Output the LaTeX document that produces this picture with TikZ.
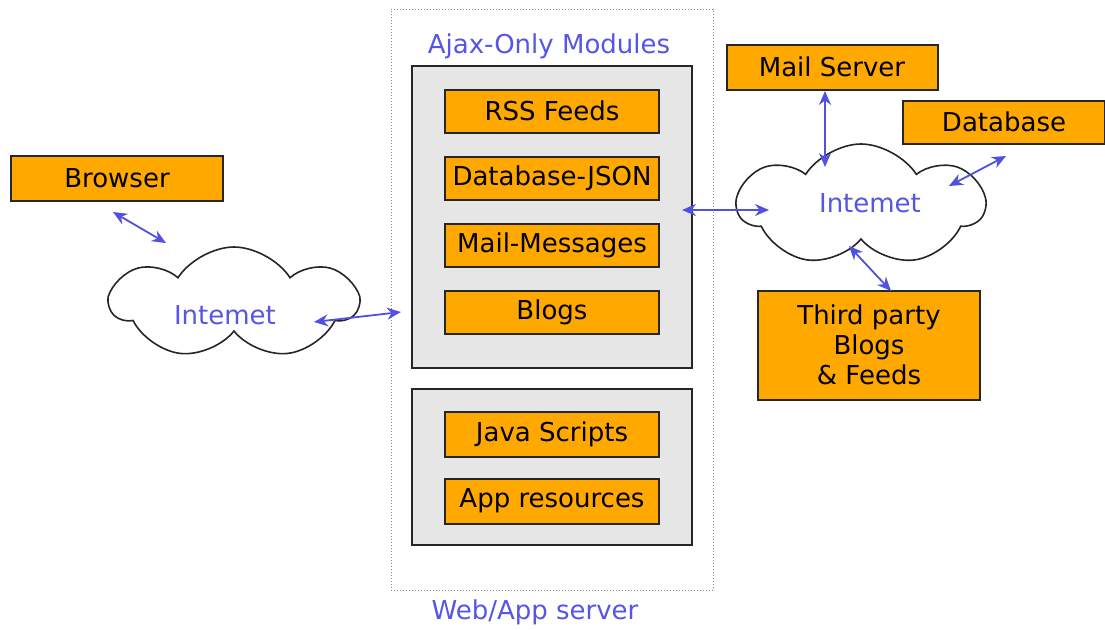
\documentclass[tikz,border=0pt]{standalone}
\usepackage{fontspec}
\setmainfont{DejaVu Sans}
\usetikzlibrary{arrows.meta,shapes.symbols}
\definecolor{boxorange}{RGB}{255,168,0}
\definecolor{panelgray}{RGB}{230,230,230}
\definecolor{linkblue}{RGB}{80,80,225}
\definecolor{labelblue}{RGB}{85,85,230}
\tikzset{
  x=1pt,y=-1pt,
  obox/.style={draw=black!85,line width=2pt,fill=boxorange,inner sep=0pt,font=\fontsize{26}{30}\selectfont,align=center},
  panel/.style={draw=black!85,line width=2pt,fill=panelgray},
  netcloud/.style={cloud,cloud puffs=7,cloud puff arc=115,aspect=2.1,draw=black!85,line width=1.6pt,fill=white,inner sep=0pt},
  link/.style={draw=linkblue,line width=1.8pt,{Stealth[length=14pt,width=12pt]}-{Stealth[length=14pt,width=12pt]}},
  bluelabel/.style={text=labelblue,font=\fontsize{26}{30}\selectfont}
}
\begin{document}
\begin{tikzpicture}
\useasboundingbox (0,0) rectangle (1105,629);
% outer server frame
\node[draw=black!45,dotted,line width=1pt,minimum width=322pt,minimum height=581pt,inner sep=0pt] (server) at (552,299.5) {};
\node[bluelabel] (ajax) at (549,46) {Ajax-Only Modules};
\node[bluelabel] (web) at (535,612) {Web/App server};
% panels
\node[panel,minimum width=280pt,minimum height=302pt,inner sep=0pt] (modpanel) at (552,217) {};
\node[panel,minimum width=280pt,minimum height=156pt,inner sep=0pt] (respanel) at (552,467) {};
% module boxes
\node[obox,minimum width=214pt,minimum height=43pt] (rss) at (552,111) {RSS Feeds};
\node[obox,minimum width=214pt,minimum height=43pt] (dbjson) at (552,178) {Database-JSON};
\node[obox,minimum width=214pt,minimum height=43pt] (mailmsg) at (552,245) {Mail-Messages};
\node[obox,minimum width=214pt,minimum height=43pt] (blogs) at (552,312) {Blogs};
\node[obox,minimum width=214pt,minimum height=45pt] (js) at (552,434) {Java Scripts};
\node[obox,minimum width=214pt,minimum height=45pt] (appres) at (552,501) {App resources};
% external boxes
\node[obox,minimum width=212pt,minimum height=45pt] (browser) at (117,178) {Browser};
\node[obox,minimum width=211pt,minimum height=45pt] (mail) at (832,67) {Mail Server};
\node[obox,minimum width=202pt,minimum height=43pt] (db) at (1004,122) {Database};
\node[obox,minimum width=222pt,minimum height=109pt] (third) at (869,345) {Third party\\Blogs\\\& Feeds};
% clouds
\node[netcloud,minimum width=246pt,minimum height=112pt] (net1) at (234,303) {};
\node[bluelabel] (net1t) at (225,315) {Intemet};
\node[netcloud,minimum width=246pt,minimum height=122pt] (net2) at (861,205) {};
\node[bluelabel] (net2t) at (870,203) {Intemet};
% connector end points
\coordinate (a1) at (113,212);
\coordinate (a2) at (166,243);
\coordinate (b1) at (314,322);
\coordinate (b2) at (401,312);
\coordinate (c1) at (682,210);
\coordinate (c2) at (769,210);
\coordinate (d1) at (825,91);
\coordinate (d2) at (825,167);
\coordinate (e1) at (949,186);
\coordinate (e2) at (1006,156);
\coordinate (f1) at (849,246);
\coordinate (f2) at (891,291);
\draw[link] (a1) -- (a2);
\draw[link] (b1) -- (b2);
\draw[link] (c1) -- (c2);
\draw[link] (d1) -- (d2);
\draw[link] (e1) -- (e2);
\draw[link] (f1) -- (f2);
\end{tikzpicture}
\end{document}
